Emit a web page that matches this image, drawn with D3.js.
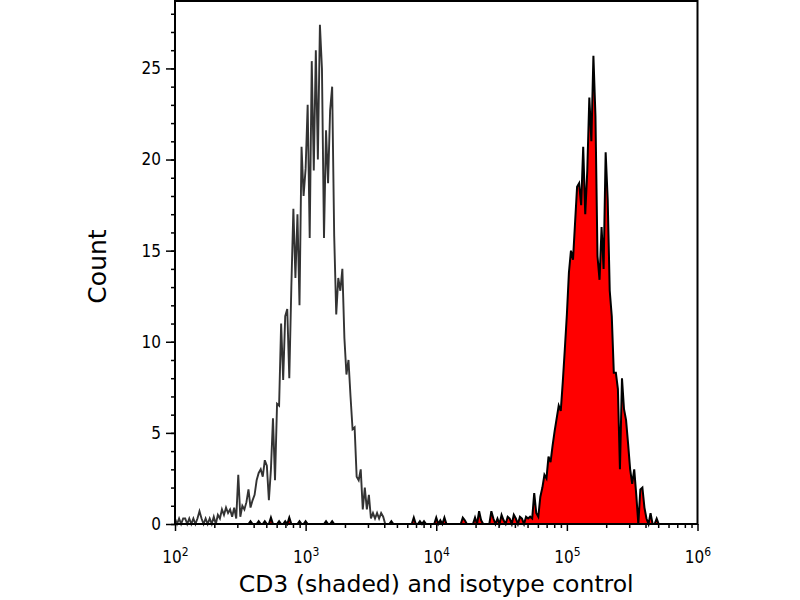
<!DOCTYPE html>
<html>
<head>
<meta charset="utf-8">
<script src="https://cdn.jsdelivr.net/npm/d3@7"></script>
<style>
  body { margin: 0; background: #fff; }
</style>
</head>
<body>
<div id="root"></div>
<script>
// flow histogram: 256 channels over 4 log decades (64 channels per decade)
var channelsPerDecade = 64;
var firstDecade = 2;

// isotype control counts, channel 0 .. 255
var isotypeCounts = [
  0.3,0,0.3,0,0.3,0.3,0,0.3,0,0.3,0,0.3,0.7,0.3,0,0.3,
  0,0.3,0,0.4,0,0.5,0.3,0.8,0.5,0.9,0.6,0.8,0.4,0.9,0.3,2.7,
  0.4,1.0,0.8,1.2,1.9,0.9,1.3,1.6,2.4,2.8,3.0,2.6,3.5,3.2,1.3,3.0,
  5.8,2.4,6.6,6.5,11.0,7.9,11.4,11.8,8.0,13.0,17.3,13.5,17.0,12.0,20.7,18.0,
  19.5,23.0,15.7,25.4,19.4,26.0,20.0,27.4,25.0,15.7,21.6,18.7,22.7,24.0,15.8,11.5,
  13.5,12.8,14.0,10.2,8.2,9.0,7.0,5.2,5.3,2.6,2.4,3.0,0.8,2.0,0.8,1.6,
  0.3,0.6,0.3,0.6,0.3,0.6,0.4,0,0,0,0,0,0,0,0,0,
  0,0,0,0,0,0,0,0,0,0,0,0,0,0,0,0,
  0,0,0,0,0,0,0,0,0,0,0,0,0,0,0,0,
  0,0,0,0,0,0,0,0,0,0,0,0,0,0,0,0,
  0,0,0,0,0,0,0,0,0,0,0,0,0,0,0,0,
  0,0,0,0,0,0,0,0,0,0,0,0,0,0,0,0,
  0,0,0,0,0,0,0,0,0,0,0,0,0,0,0,0,
  0,0,0,0,0,0,0,0,0,0,0,0,0,0,0,0,
  0,0,0,0,0,0,0,0,0,0,0,0,0,0,0,0,
  0,0,0,0,0,0,0,0,0,0,0,0,0,0,0,0
];

// CD3 stained counts (shaded), channel 0 .. 255
var cd3Counts = [
  0,0,0,0,0,0,0,0,0,0,0,0,0,0,0,0,
  0,0,0,0,0,0,0,0,0,0,0,0,0,0,0,0,
  0,0,0,0,0,0.15,0,0,0,0.15,0,0,0.15,0,0,0.35,
  0,0,0,0.15,0,0,0.15,0,0.35,0,0,0,0,0.15,0,0,
  0.15,0,0,0,0,0,0,0,0,0,0.15,0,0,0.15,0,0,
  0,0,0,0,0,0,0,0,0,0,0,0,0,0,0,0,
  0,0,0,0,0,0,0,0,0,0,0.15,0,0,0,0,0,
  0,0,0,0,0,0.35,0,0,0.15,0,0.15,0,0,0,0,0,
  0.35,0,0.2,0,0.35,0,0,0,0,0,0,0,0,0.35,0.2,0,
  0,0,0,0.35,0,0.7,0.2,0,0,0,0,0.7,0.3,0,0.3,0,
  0.5,0.2,0,0.4,0.3,0,0.5,0.3,0,0.4,0.3,0,0.4,0.3,0.4,0.3,
  1.7,0.6,0.4,1.5,2.0,2.7,2.5,3.7,3.4,4.3,5.1,5.8,6.5,6.2,7.8,9.6,
  11.5,13.8,15.0,14.5,16.5,18.5,18.7,17.5,20.7,17.0,19.4,23.4,21.0,25.7,22.4,14.7,
  13.4,16.3,14.0,20.4,17.8,12.8,11.4,8.3,8.3,7.4,3.0,8.0,6.3,5.7,4.4,3.0,
  2.2,3.0,1.6,0,1.9,2.0,0.9,0.3,0,0.6,0,0,0.3,0,0,0,
  0,0,0,0,0,0,0,0,0,0,0,0,0,0,0,0
];

var xMajorTicks = [1e2, 1e3, 1e4, 1e5, 1e6];
var xTickExponents = ["2", "3", "4", "5", "6"];
var yMajorTicks = [0, 5, 10, 15, 20, 25];
var yMax = 28.7;

// pixel layout of the plot box
var svgWidth = 800;
var svgHeight = 600;
var plot = { left: 175, right: 697.5, top: 1, bottom: 524 };
var tickFont = '"DejaVu Sans Condensed", "DejaVu Sans", sans-serif';
var titleFont = '"DejaVu Sans", sans-serif';

var x = d3.scaleLog()
  .domain([1e2, 1e6])
  .range([plot.left, plot.right]);
var y = d3.scaleLinear()
  .domain([0, yMax])
  .range([plot.bottom, plot.top]);

// channel number -> intensity
function channelValue(i) {
  return Math.pow(10, firstDecade + i / channelsPerDecade);
}

var isoData = isotypeCounts.map((c, i) => ({ v: channelValue(i), c: c }));
var cd3Data = cd3Counts.map((c, i) => ({ v: channelValue(i), c: c }));

var svg = d3.select("#root").append("svg")
  .attr("width", svgWidth)
  .attr("height", svgHeight);

// shaded CD3 histogram
var area = d3.area()
  .x(d => x(d.v))
  .y0(y(0))
  .y1(d => y(d.c));
var line = d3.line()
  .x(d => x(d.v))
  .y(d => y(d.c));

svg.append("path")
  .datum(cd3Data)
  .attr("fill", "#ff0000")
  .attr("stroke", "none")
  .attr("d", area);
svg.append("path")
  .datum(cd3Data)
  .attr("fill", "none")
  .attr("stroke", "#000")
  .attr("stroke-width", 2)
  .attr("d", line);

// isotype control outline
svg.append("path")
  .datum(isoData)
  .attr("fill", "none")
  .attr("stroke", "#333")
  .attr("stroke-width", 1.9)
  .attr("d", line);

// minor ticks on x: 2..9 in each decade
var xMinor = [];
for (let d = 2; d < 6; d++) {
  for (let k = 2; k < 10; k++) xMinor.push(k * Math.pow(10, d));
}

svg.append("g")
  .attr("transform", `translate(0,${plot.bottom})`)
  .call(d3.axisBottom(x).tickValues(xMinor).tickSize(4).tickFormat(""))
  .call(g => g.select(".domain").remove())
  .call(g => g.selectAll("line").attr("stroke-width", 1.5));

var xAxisG = svg.append("g")
  .attr("transform", `translate(0,${plot.bottom})`)
  .call(d3.axisBottom(x).tickValues(xMajorTicks).tickSize(7).tickPadding(12).tickFormat(""))
  .call(g => g.select(".domain").remove())
  .call(g => g.selectAll("line").attr("stroke-width", 1.5));

// 10 with superscript exponent
xAxisG.selectAll(".tick text")
  .style("font-family", tickFont)
  .attr("font-size", 17)
  .attr("fill", "#000")
  .attr("dy", "1.2em")
  .each(function (d, i) {
    var t = d3.select(this);
    t.append("tspan").text("10");
    t.append("tspan").attr("font-size", 12).attr("dy", "-0.6em").text(xTickExponents[i]);
  });

svg.append("g")
  .attr("transform", `translate(${plot.left},0)`)
  .call(d3.axisLeft(y).tickValues(d3.range(0, 29)).tickSize(4).tickFormat(""))
  .call(g => g.select(".domain").remove())
  .call(g => g.selectAll("line").attr("stroke-width", 1.5));

svg.append("g")
  .attr("transform", `translate(${plot.left},0)`)
  .call(d3.axisLeft(y).tickValues(yMajorTicks).tickSize(9).tickPadding(5))
  .call(g => g.select(".domain").remove())
  .call(g => g.selectAll("line").attr("stroke-width", 1.5))
  .call(g => g.selectAll("text").style("font-family", tickFont).attr("font-size", 17).attr("fill", "#000"));

// plot frame
svg.append("rect")
  .attr("x", plot.left)
  .attr("y", plot.top)
  .attr("width", plot.right - plot.left)
  .attr("height", plot.bottom - plot.top)
  .attr("fill", "none")
  .attr("stroke", "#000")
  .attr("stroke-width", 2);

// axis titles
svg.append("text")
  .attr("text-anchor", "middle")
  .attr("x", (plot.left + plot.right) / 2)
  .attr("y", 592)
  .attr("font-size", 23.5)
  .style("font-family", titleFont)
  .text("CD3 (shaded) and isotype control");

svg.append("text")
  .attr("text-anchor", "middle")
  .attr("transform", `translate(106,${(plot.top + plot.bottom) / 2 + 4}) rotate(-90)`)
  .attr("font-size", 25)
  .style("font-family", titleFont)
  .text("Count");
</script>
</body>
</html>
